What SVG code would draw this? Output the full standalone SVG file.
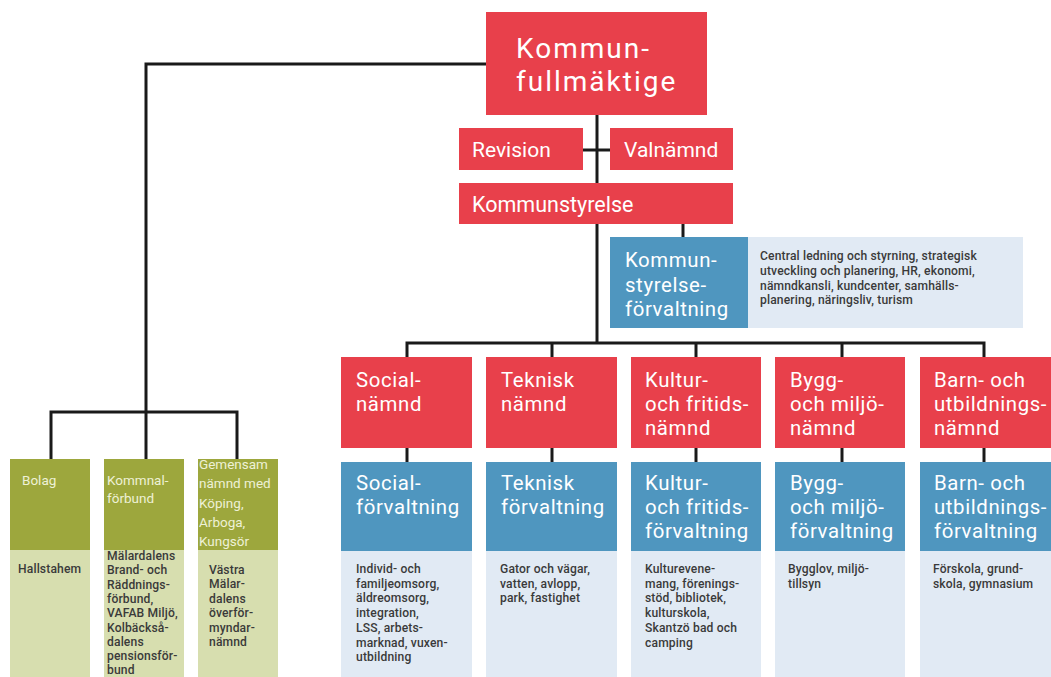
<svg xmlns="http://www.w3.org/2000/svg" width="1051" height="677" viewBox="0 0 1051 677">
<style>
.red{fill:#e8404b}
.blue{fill:#4f96bf}
.lb{fill:#e1eaf4}
.dg{fill:#9da73d}
.lg{fill:#d7deaf}
text{font-family:Roboto,"Liberation Sans",sans-serif}
.w{fill:#ffffff}
.big{font-size:28px;letter-spacing:2px}
.mid{font-size:21px}
.ks{font-size:21.5px}
.nm{font-size:20.4px;letter-spacing:0.6px}
.gt{font-size:13.5px;fill:#eef1d6}
.d{font-size:12.1px;font-weight:500;fill:#3a3a3a;letter-spacing:0.15px}
.conn{fill:none;stroke:#1a1a1a;stroke-width:3}
</style>
<rect width="1051" height="677" fill="#ffffff"/>
<g id="connectors" class="conn">
<path d="M486,64 H146 V412"/>
<path d="M51,459 V412 H237 V459"/>
<path d="M146,412 V459"/>
<path d="M597,115 V343"/>
<path d="M583,150 H610"/>
<path d="M683,224 V237"/>
<path d="M407,357 V343 H984 V357"/>
<path d="M552,343 V357"/>
<path d="M696,343 V357"/>
<path d="M842,343 V357"/>
<path d="M407,448 V462"/>
<path d="M552,448 V462"/>
<path d="M696,448 V462"/>
<path d="M842,448 V462"/>
<path d="M984,448 V462"/>
</g>
<g id="kommunfullmaktige">
<rect class="red" x="486" y="12" width="221" height="103"/>
<text class="w big" x="516" y="58">Kommun-<tspan x="516" dy="33">fullmäktige</tspan></text>
</g>
<g id="revision">
<rect class="red" x="459" y="128" width="124" height="42"/>
<text class="w mid" x="472" y="157">Revision</text>
</g>
<g id="valnamnd">
<rect class="red" x="610" y="128" width="123" height="42"/>
<text class="w mid" x="624" y="157">Valnämnd</text>
</g>
<g id="kommunstyrelse">
<rect class="red" x="459" y="183" width="274" height="41"/>
<text class="w ks" x="472" y="212">Kommunstyrelse</text>
</g>
<g id="kommunstyrelseforvaltning">
<rect class="lb" x="748" y="237" width="275" height="91"/>
<rect class="blue" x="610" y="237" width="138" height="91"/>
<text class="w nm" x="625" y="267">Kommun-<tspan x="625" dy="24.5">styrelse-</tspan><tspan x="625" dy="24.5">förvaltning</tspan></text>
<text class="d" x="760" y="260">Central ledning och styrning, strategisk<tspan x="760" dy="14.8">utveckling och planering, HR, ekonomi,</tspan><tspan x="760" dy="14.8">nämndkansli, kundcenter, samhälls-</tspan><tspan x="760" dy="14.8">planering, näringsliv, turism</tspan></text>
</g>
<g id="bolag">
<rect class="dg" x="10" y="459" width="80" height="91"/>
<rect class="lg" x="10" y="550" width="80" height="127"/>
<text class="gt" x="22" y="485">Bolag</text>
<text class="d" x="18" y="573">Hallstahem</text>
</g>
<g id="kommunalforbund">
<rect class="dg" x="104" y="459" width="80" height="91"/>
<rect class="lg" x="104" y="550" width="80" height="127"/>
<text class="gt" x="107" y="485">Kommnal-<tspan x="107" dy="18">förbund</tspan></text>
<text class="d" x="107" y="560">Mälardalens<tspan x="107" dy="14.3">Brand- och</tspan><tspan x="107" dy="14.3">Räddnings-</tspan><tspan x="107" dy="14.3">förbund,</tspan><tspan x="107" dy="14.3">VAFAB Miljö,</tspan><tspan x="107" dy="14.3">Kolbäckså-</tspan><tspan x="107" dy="14.3">dalens</tspan><tspan x="107" dy="14.3">pensionsför-</tspan><tspan x="107" dy="14.3">bund</tspan></text>
</g>
<g id="gemensam">
<rect class="dg" x="198" y="459" width="80" height="91"/>
<rect class="lg" x="198" y="550" width="80" height="127"/>
<text class="gt" x="199" y="469">Gemensam<tspan x="199" dy="19.3">nämnd med</tspan><tspan x="199" dy="19.3">Köping,</tspan><tspan x="199" dy="19.3">Arboga,</tspan><tspan x="199" dy="19.3">Kungsör</tspan></text>
<text class="d" x="209" y="574">Västra<tspan x="209" dy="14.4">Mälar-</tspan><tspan x="209" dy="14.4">dalens</tspan><tspan x="209" dy="14.4">överför-</tspan><tspan x="209" dy="14.4">myndar-</tspan><tspan x="209" dy="14.4">nämnd</tspan></text>
</g>
<g id="social">
<rect class="red" x="341" y="357" width="131" height="91"/>
<text class="w nm" x="356" y="387">Social-<tspan x="356" dy="24">nämnd</tspan></text>
<rect class="blue" x="341" y="462" width="131" height="89"/>
<text class="w nm" x="356" y="490">Social-<tspan x="356" dy="24">förvaltning</tspan></text>
<rect class="lb" x="341" y="551" width="131" height="126"/>
<text class="d" x="356" y="573">Individ- och<tspan x="356" dy="14.7">familjeomsorg,</tspan><tspan x="356" dy="14.7">äldreomsorg,</tspan><tspan x="356" dy="14.7">integration,</tspan><tspan x="356" dy="14.7">LSS, arbets-</tspan><tspan x="356" dy="14.7">marknad, vuxen-</tspan><tspan x="356" dy="14.7">utbildning</tspan></text>
</g>
<g id="teknisk">
<rect class="red" x="486" y="357" width="131" height="91"/>
<text class="w nm" x="501" y="387">Teknisk<tspan x="501" dy="24">nämnd</tspan></text>
<rect class="blue" x="486" y="462" width="131" height="89"/>
<text class="w nm" x="501" y="490">Teknisk<tspan x="501" dy="24">förvaltning</tspan></text>
<rect class="lb" x="486" y="551" width="131" height="126"/>
<text class="d" x="500" y="573">Gator och vägar,<tspan x="500" dy="14.7">vatten, avlopp,</tspan><tspan x="500" dy="14.7">park, fastighet</tspan></text>
</g>
<g id="kultur">
<rect class="red" x="631" y="357" width="130" height="91"/>
<text class="w nm" x="645" y="387">Kultur-<tspan x="645" dy="24">och fritids-</tspan><tspan x="645" dy="24">nämnd</tspan></text>
<rect class="blue" x="631" y="462" width="130" height="89"/>
<text class="w nm" x="645" y="490">Kultur-<tspan x="645" dy="24">och fritids-</tspan><tspan x="645" dy="24">förvaltning</tspan></text>
<rect class="lb" x="631" y="551" width="130" height="126"/>
<text class="d" x="645" y="573">Kulturevene-<tspan x="645" dy="14.7">mang, förenings-</tspan><tspan x="645" dy="14.7">stöd, bibliotek,</tspan><tspan x="645" dy="14.7">kulturskola,</tspan><tspan x="645" dy="14.7">Skantzö bad och</tspan><tspan x="645" dy="14.7">camping</tspan></text>
</g>
<g id="bygg">
<rect class="red" x="775" y="357" width="130" height="91"/>
<text class="w nm" x="790" y="387">Bygg-<tspan x="790" dy="24">och miljö-</tspan><tspan x="790" dy="24">nämnd</tspan></text>
<rect class="blue" x="775" y="462" width="130" height="89"/>
<text class="w nm" x="790" y="490">Bygg-<tspan x="790" dy="24">och miljö-</tspan><tspan x="790" dy="24">förvaltning</tspan></text>
<rect class="lb" x="775" y="551" width="130" height="126"/>
<text class="d" x="788" y="573">Bygglov, miljö-<tspan x="788" dy="14.7">tillsyn</tspan></text>
</g>
<g id="barn">
<rect class="red" x="920" y="357" width="131" height="91"/>
<text class="w nm" x="934" y="387">Barn- och<tspan x="934" dy="24">utbildnings-</tspan><tspan x="934" dy="24">nämnd</tspan></text>
<rect class="blue" x="920" y="462" width="131" height="89"/>
<text class="w nm" x="934" y="490">Barn- och<tspan x="934" dy="24">utbildnings-</tspan><tspan x="934" dy="24">förvaltning</tspan></text>
<rect class="lb" x="920" y="551" width="131" height="126"/>
<text class="d" x="933" y="573">Förskola, grund-<tspan x="933" dy="14.7">skola, gymnasium</tspan></text>
</g>
</svg>
